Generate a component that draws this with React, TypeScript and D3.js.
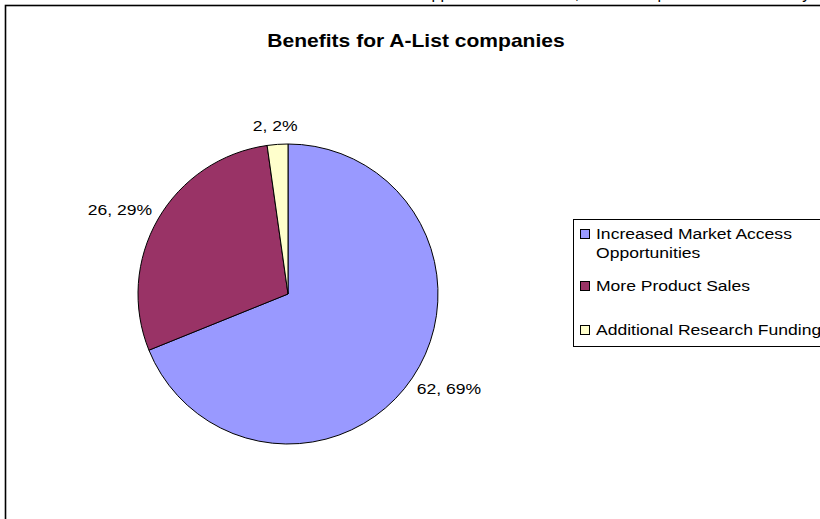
import React, { useRef, useEffect } from 'react';
import * as d3 from 'd3';

const categories = ['Increased Market Access Opportunities', 'More Product Sales', 'Additional Research Funding'];
const legendLines = [['Increased Market Access', 'Opportunities'], ['More Product Sales'], ['Additional Research Funding']];
const values = [62, 26, 2];
const colors = ['#9999FF', '#993366', '#FFFFCC'];

const title = 'Benefits for A-List companies';

// page text above the chart; only the descenders show
const pageText = 'Supplement Outcomes, Annual Report on Each Territory';

const App: React.FC = () => {
  const svgRef = useRef<SVGSVGElement | null>(null);

  useEffect(() => {
    const width = 820;
    const height = 519;
    const svg = d3.select(svgRef.current).attr('width', width).attr('height', height);
    svg.selectAll('*').remove();

    const font = 'Liberation Sans, Arial, sans-serif';
    const sx = 1.17; // the source's text is drawn a little wide

    svg.append('text')
      .attr('x', 412)
      .attr('y', -0.6)
      .attr('font-family', font)
      .attr('font-size', 16)
      .text(pageText);

    // chart frame (runs off right and bottom)
    svg.append('rect')
      .attr('x', 5.5)
      .attr('y', 5.5)
      .attr('width', 900)
      .attr('height', 600)
      .attr('fill', 'white')
      .attr('stroke', 'black')
      .attr('stroke-width', 1.6);

    svg.append('text')
      .attr('transform', `translate(416,47) scale(${sx},1)`)
      .attr('text-anchor', 'middle')
      .attr('font-family', font)
      .attr('font-weight', 'bold')
      .attr('font-size', 18)
      .text(title);

    const cx = 288;
    const cy = 294;
    const r = 150;
    const total = d3.sum(values);

    const pie = d3.pie<number>().sort(null).value(d => d);
    const arcs = pie(values);
    const arc = d3.arc<d3.PieArcDatum<number>>().innerRadius(0).outerRadius(r);

    const g = svg.append('g').attr('transform', `translate(${cx},${cy})`);

    g.selectAll('path.slice')
      .data(arcs)
      .enter()
      .append('path')
      .attr('class', 'slice')
      .attr('d', d => arc(d)!)
      .attr('fill', (d, i) => colors[i])
      .attr('stroke', 'black')
      .attr('stroke-width', 1);

    // data labels: outside end, box pushed out along the mid angle
    const gap = 12;
    const labelH = 14;
    arcs.forEach(d => {
      const a = (d.startAngle + d.endAngle) / 2;
      const ux = Math.sin(a);
      const uy = -Math.cos(a);
      const t = g.append('text')
        .attr('text-anchor', 'middle')
        .attr('dy', '0.35em')
        .attr('font-family', font)
        .attr('font-size', 15)
        .text(`${d.data}, ${Math.round((d.data / total) * 100)}%`);
      const w = (t.node() as SVGTextElement).getComputedTextLength() * sx;
      const x = (r + gap) * ux + (w / 2) * ux;
      const y = (r + gap) * uy + (labelH / 2) * uy;
      t.attr('transform', `translate(${x},${y}) scale(${sx},1)`);
    });

    // legend
    const legend = svg.append('g');
    legend.append('rect')
      .attr('x', 573.5)
      .attr('y', 219.5)
      .attr('width', 300)
      .attr('height', 127)
      .attr('fill', 'white')
      .attr('stroke', 'black')
      .attr('stroke-width', 1);

    const rowY = [234, 286, 330];
    categories.forEach((c, i) => {
      legend.append('rect')
        .attr('x', 580.5)
        .attr('y', rowY[i] - 4.5)
        .attr('width', 9)
        .attr('height', 9)
        .attr('fill', colors[i])
        .attr('stroke', 'black')
        .attr('stroke-width', 1);
      legendLines[i].forEach((line, j) => {
        legend.append('text')
          .attr('transform', `translate(596,${rowY[i] + j * 19}) scale(${sx},1)`)
          .attr('dy', '0.35em')
          .attr('font-family', font)
          .attr('font-size', 15)
          .text(line);
      });
    });
  }, []);

  return <svg ref={svgRef} style={{ position: 'absolute', left: 0, top: 0 }}></svg>;
};

export default App;
